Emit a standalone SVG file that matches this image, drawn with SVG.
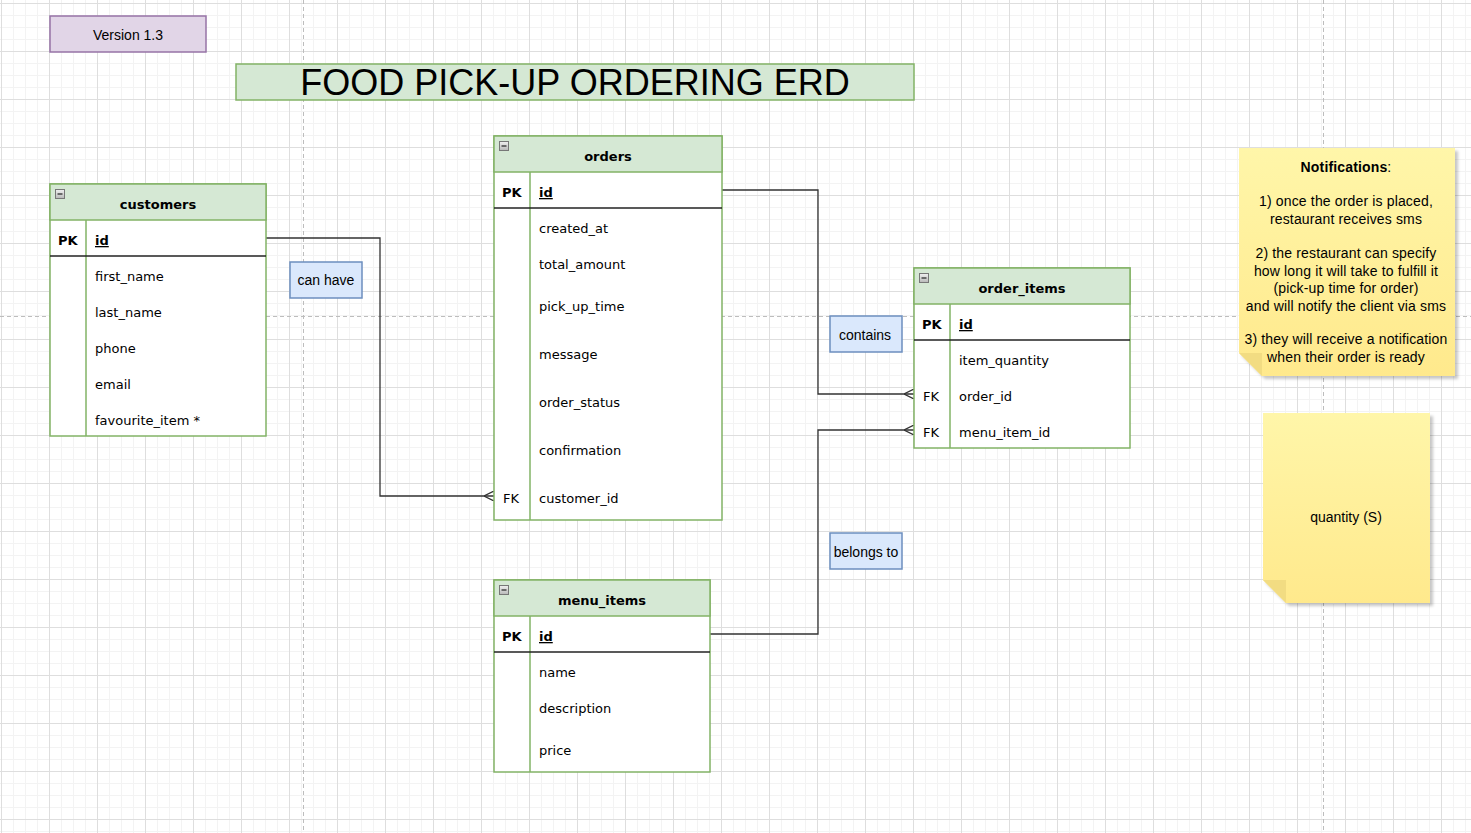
<svg xmlns="http://www.w3.org/2000/svg" width="1471" height="833" viewBox="0 0 1471 833">
<style>
.tbl{font-family:"DejaVu Sans",Verdana,sans-serif;font-size:13px;fill:#000}
.hdr{font-weight:bold;text-anchor:middle}
.b{font-weight:bold}
.u{text-decoration:underline}
.head{fill:#d5e8d4;stroke:#82b366;stroke-width:1.5}
.body{fill:#fff;stroke:#82b366;stroke-width:1.5}
.div{stroke:#82b366;stroke-width:1.5}
.sep{stroke:#222;stroke-width:1.5}
.lbl{fill:#dae8fc;stroke:#6c8ebf;stroke-width:1.5}
.ar{font-family:"Liberation Sans",Arial,sans-serif;fill:#000}
.conn{fill:none;stroke:#333;stroke-width:1.3}
.note{fill:url(#ng);filter:url(#sh)}
.fold{fill:#f2dc82}
.pg{stroke:#bdbdbd;stroke-width:1;stroke-dasharray:4 3}
</style>
<defs>
<pattern id="grid" patternUnits="userSpaceOnUse" x="1" y="3" width="48" height="48">
<path d="M12.5 0V48M24.5 0V48M36.5 0V48M0 12.5H48M0 24.5H48M0 36.5H48" stroke="#f3f3f3" stroke-width="1" fill="none"/>
<path d="M0.5 0V48M0 0.5H48" stroke="#dedede" stroke-width="1" fill="none"/>
</pattern>
<linearGradient id="ng" x1="0" y1="0" x2="0" y2="1">
<stop offset="0" stop-color="#fff6a9"/>
<stop offset="1" stop-color="#ffe98c"/>
</linearGradient>
<linearGradient id="mg" x1="0" y1="0" x2="0" y2="1">
<stop offset="0" stop-color="#f0f0f0"/>
<stop offset="1" stop-color="#b8b8b8"/>
</linearGradient>
<filter id="sh" x="-10%" y="-10%" width="130%" height="130%">
<feDropShadow dx="3" dy="3" stdDeviation="1.5" flood-color="#000" flood-opacity="0.22"/>
</filter>
<marker id="many" viewBox="0 0 10 10" refX="10" refY="5" markerWidth="10" markerHeight="10" markerUnits="userSpaceOnUse" orient="auto">
<path d="M10 0L0 5L10 10" fill="none" stroke="#333" stroke-width="1.3"/>
</marker>
<g id="minus"><rect x="0.5" y="0.5" width="9" height="9" fill="url(#mg)" stroke="#777" stroke-width="1"/><path d="M2.5 5H7.5" stroke="#222" stroke-width="1.2"/></g>
</defs>
<rect width="1471" height="833" fill="#fff"/>
<rect width="1471" height="833" fill="url(#grid)"/>
<path class="pg" d="M303.5 0V833M1323.5 0V833M0 316.5H1471"/>

<g id="version">
<rect x="50" y="16" width="156" height="36" fill="#e1d5e7" stroke="#9673a6" stroke-width="1.5"/>
<text class="ar" x="128" y="40" font-size="14" text-anchor="middle">Version 1.3</text>
</g>

<g id="title">
<rect x="236" y="64" width="678" height="36" fill="#d5e8d4" stroke="#82b366" stroke-width="1.5"/>
<text class="ar" x="575" y="95" font-size="36" text-anchor="middle">FOOD PICK-UP ORDERING ERD</text>
</g>

<g id="connectors">
<path class="conn" d="M266 238H380V496H494" marker-end="url(#many)"/>
<path class="conn" d="M722 190H818V394H914" marker-end="url(#many)"/>
<path class="conn" d="M710 634H818V430H914" marker-end="url(#many)"/>
</g>

<g id="customers" class="tbl">
<rect class="body" x="50" y="184" width="216" height="252"/>
<rect class="head" x="50" y="184" width="216" height="36"/>
<use href="#minus" x="55" y="189"/>
<path class="div" d="M86 220V436"/>
<path class="sep" d="M50 256H266"/>
<text class="hdr" x="158" y="209">customers</text>
<text class="b" x="58" y="245">PK</text>
<text class="b u" x="95" y="245">id</text>
<text x="95" y="281">first_name</text>
<text x="95" y="317">last_name</text>
<text x="95" y="353">phone</text>
<text x="95" y="389">email</text>
<text x="95" y="425">favourite_item *</text>
</g>

<g id="orders" class="tbl">
<rect class="body" x="494" y="136" width="228" height="384"/>
<rect class="head" x="494" y="136" width="228" height="36"/>
<use href="#minus" x="499" y="141"/>
<path class="div" d="M530 172V520"/>
<path class="sep" d="M494 208H722"/>
<text class="hdr" x="608" y="161">orders</text>
<text class="b" x="502" y="197">PK</text>
<text class="b u" x="539" y="197">id</text>
<text x="539" y="233">created_at</text>
<text x="539" y="269">total_amount</text>
<text x="539" y="311">pick_up_time</text>
<text x="539" y="359">message</text>
<text x="539" y="407">order_status</text>
<text x="539" y="455">confirmation</text>
<text x="503" y="503">FK</text>
<text x="539" y="503">customer_id</text>
</g>

<g id="order_items" class="tbl">
<rect class="body" x="914" y="268" width="216" height="180"/>
<rect class="head" x="914" y="268" width="216" height="36"/>
<use href="#minus" x="919" y="273"/>
<path class="div" d="M950 304V448"/>
<path class="sep" d="M914 340H1130"/>
<text class="hdr" x="1022" y="293">order_items</text>
<text class="b" x="922" y="329">PK</text>
<text class="b u" x="959" y="329">id</text>
<text x="959" y="365">item_quantity</text>
<text x="923" y="401">FK</text>
<text x="959" y="401">order_id</text>
<text x="923" y="437">FK</text>
<text x="959" y="437">menu_item_id</text>
</g>

<g id="menu_items" class="tbl">
<rect class="body" x="494" y="580" width="216" height="192"/>
<rect class="head" x="494" y="580" width="216" height="36"/>
<use href="#minus" x="499" y="585"/>
<path class="div" d="M530 616V772"/>
<path class="sep" d="M494 652H710"/>
<text class="hdr" x="602" y="605">menu_items</text>
<text class="b" x="502" y="641">PK</text>
<text class="b u" x="539" y="641">id</text>
<text x="539" y="677">name</text>
<text x="539" y="713">description</text>
<text x="539" y="755">price</text>
</g>

<g id="label_can_have">
<rect class="lbl" x="290" y="262" width="72" height="36"/>
<text class="ar" x="326" y="285" font-size="14" text-anchor="middle">can have</text>
</g>
<g id="label_contains">
<rect class="lbl" x="830" y="316" width="72" height="36"/>
<text class="ar" x="865" y="340" font-size="14" text-anchor="middle">contains</text>
</g>
<g id="label_belongs_to">
<rect class="lbl" x="830" y="533" width="72" height="36"/>
<text class="ar" x="866" y="557" font-size="14" text-anchor="middle">belongs to</text>
</g>

<g id="note_notifications">
<path class="note" d="M1239 148H1455V376H1262L1239 353Z"/>
<path class="fold" d="M1239 353H1262V376Z"/>
<g class="ar" font-size="14" letter-spacing="0.15" text-anchor="middle">
<text x="1346" y="172"><tspan font-weight="bold">Notifications</tspan>:</text>
<text x="1346" y="206">1) once the order is placed,</text>
<text x="1346" y="224">restaurant receives sms</text>
<text x="1346" y="258">2) the restaurant can specify</text>
<text x="1346" y="276">how long it will take to fulfill it</text>
<text x="1346" y="293">(pick-up time for order)</text>
<text x="1346" y="311">and will notify the client via sms</text>
<text x="1346" y="344">3) they will receive a notification</text>
<text x="1346" y="362">when their order is ready</text>
</g>
</g>

<g id="note_quantity">
<path class="note" d="M1263 413H1430V603H1286L1263 580Z"/>
<path class="fold" d="M1263 580H1286V603Z"/>
<text class="ar" x="1346" y="522" font-size="14" text-anchor="middle">quantity (S)</text>
</g>
</svg>
